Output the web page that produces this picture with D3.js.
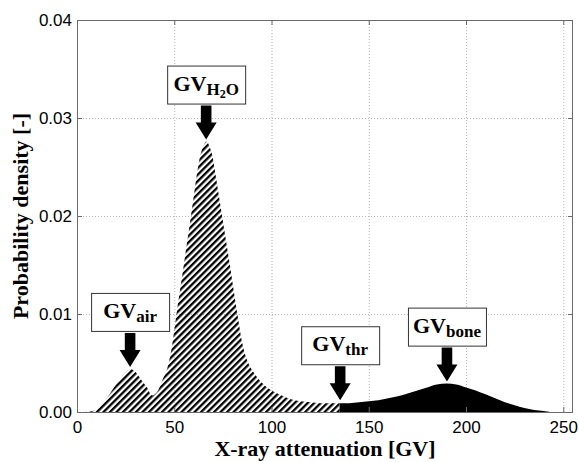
<!DOCTYPE html>
<html>
<head>
<meta charset="utf-8">
<script src="https://cdn.jsdelivr.net/npm/d3@7"></script>
<style>
  body { margin: 0; background: #fff; }
  svg { display: block; }
  .tick text { font-family: "Liberation Sans", Arial, sans-serif; font-size: 17px; fill: #000; }
  .grid line { stroke: #b4b4b4; stroke-dasharray: 1,2; }
  .lbl { font-family: "Liberation Serif", "Times New Roman", serif; font-weight: bold; fill: #000; }
</style>
</head>
<body>
<div id="chart"></div>
<script>
(function(){
  'use strict';

  // data
  var gv = [0, 4, 8, 11, 14, 17, 20, 23, 26, 27.6, 30, 33, 36, 38.5, 41, 44, 46, 48, 50, 52,
            54, 56, 58, 60, 62, 64, 66.5, 69, 71, 73, 75, 77, 79, 81, 83, 85, 88, 92, 96, 100,
            105, 110, 115, 120, 125, 130, 135, 140, 145, 150, 155, 160, 165, 170, 175, 180,
            185, 190, 195, 200, 205, 210, 215, 220, 225, 230, 235, 240, 243];
  var density = [0, 0, 0.0001, 0.0004, 0.0011, 0.0019, 0.0028, 0.0036, 0.0042, 0.0044, 0.0041,
            0.0033, 0.0025, 0.0017, 0.0020, 0.0033, 0.0042, 0.0058, 0.0083, 0.0112,
            0.0138, 0.0165, 0.0192, 0.0220, 0.0247, 0.0266, 0.0276, 0.0266, 0.0245, 0.0220,
            0.0195, 0.0170, 0.0145, 0.0118, 0.0093, 0.0070, 0.0050, 0.0037, 0.0028, 0.0022,
            0.0017, 0.0013, 0.0011, 0.0010, 0.0009, 0.0009, 0.0009, 0.0009, 0.0010, 0.0011,
            0.0012, 0.0014, 0.0016, 0.0019, 0.0022, 0.0025, 0.0028, 0.0029, 0.0028, 0.0025,
            0.0022, 0.0018, 0.0014, 0.0010, 0.0007, 0.0004, 0.0002, 0.0001, 0];
  var threshold = 135;

  var xTicks = [0, 50, 100, 150, 200, 250];
  var yTicks = [0, 0.01, 0.02, 0.03, 0.04];

  var annoNames = ['air', 'H2O', 'thr', 'bone'];
  var annoX = [27.3, 66.4, 135.3, 190.2];
  var annoTip = [0.0046, 0.0278, 0.0012, 0.0031];

  var W = 579, H = 462,
      m = {left: 77, top: 20, right: 6, bottom: 50},
      w = W - m.left - m.right,
      h = H - m.top - m.bottom;

  var svg = d3.select('#chart').append('svg')
    .attr('width', W)
    .attr('height', H);

  var x = d3.scaleLinear().domain([0, 255]).range([m.left, m.left + w]);
  var y = d3.scaleLinear().domain([0, 0.04]).range([m.top + h, m.top]);

  // hatch pattern
  svg.append('defs').append('pattern')
    .attr('id', 'hatch')
    .attr('patternUnits', 'userSpaceOnUse')
    .attr('width', 4.6)
    .attr('height', 4.6)
    .attr('patternTransform', 'rotate(45)')
    .append('rect')
      .attr('width', 2.3)
      .attr('height', 4.6)
      .attr('fill', '#000');

  // grid
  svg.append('g')
    .attr('class', 'grid')
    .attr('transform', 'translate(0,' + (m.top + h) + ')')
    .call(d3.axisBottom(x).tickValues(xTicks.slice(1)).tickSize(-h).tickFormat(''))
    .call(function(g){ g.select('.domain').remove(); });

  svg.append('g')
    .attr('class', 'grid')
    .attr('transform', 'translate(' + m.left + ',0)')
    .call(d3.axisLeft(y).tickValues(yTicks.slice(1, 4)).tickSize(-w).tickFormat(''))
    .call(function(g){ g.select('.domain').remove(); });

  var pts = gv.map(function(d, i){ return {x: d, y: density[i]}; });

  var area = d3.area()
    .x(function(d){ return x(d.x); })
    .y0(y(0))
    .y1(function(d){ return Math.min(y(d.y), y(0)); })
    .curve(d3.curveCatmullRom.alpha(0.5));

  svg.append('path')
    .datum(pts.filter(function(d){ return d.x <= threshold; }))
    .attr('d', area)
    .attr('fill', 'url(#hatch)');

  svg.append('path')
    .datum(pts.filter(function(d){ return d.x >= threshold; }))
    .attr('d', area)
    .attr('fill', '#000');

  // axes, matlab style ticks inside on all four sides
  function styleAxis(g) {
    g.select('.domain').remove();
    g.selectAll('.tick line').attr('stroke', '#6a6a6a');
  }

  svg.append('g')
    .attr('transform', 'translate(0,' + (m.top + h) + ')')
    .call(d3.axisBottom(x).tickValues(xTicks).tickSize(-5).tickPadding(9).tickFormat(d3.format('d')))
    .call(styleAxis);

  svg.append('g')
    .attr('transform', 'translate(0,' + m.top + ')')
    .call(d3.axisTop(x).tickValues(xTicks).tickSize(-5).tickFormat(''))
    .call(styleAxis);

  svg.append('g')
    .attr('transform', 'translate(' + m.left + ',0)')
    .call(d3.axisLeft(y).tickValues(yTicks).tickSize(-5).tickPadding(5).tickFormat(d3.format('.2f')))
    .call(styleAxis);

  svg.append('g')
    .attr('transform', 'translate(' + (m.left + w) + ',0)')
    .call(d3.axisRight(y).tickValues(yTicks).tickSize(-5).tickFormat(''))
    .call(styleAxis);

  svg.append('rect')
    .attr('x', m.left + 0.5)
    .attr('y', m.top + 0.5)
    .attr('width', w - 1)
    .attr('height', h)
    .attr('fill', 'none')
    .attr('stroke', '#6a6a6a');

  // axis titles
  svg.append('text')
    .attr('class', 'lbl')
    .attr('x', m.left + w / 2)
    .attr('y', 456)
    .attr('text-anchor', 'middle')
    .style('font-size', '22px')
    .text('X-ray attenuation [GV]');

  svg.append('text')
    .attr('class', 'lbl')
    .attr('transform', 'translate(28,' + (m.top + h / 2) + ') rotate(-90)')
    .attr('text-anchor', 'middle')
    .style('font-size', '22px')
    .text('Probability density [-]');

  // annotations
  var boxW = 78, boxH = 38, gap = 36;

  annoNames.forEach(function(name, i) {
    var cx = x(annoX[i]),
        tip = y(annoTip[i]),
        by = tip - gap - boxH,
        g = svg.append('g');

    g.append('rect')
      .attr('x', cx - boxW / 2 + 0.5)
      .attr('y', by + 0.5)
      .attr('width', boxW)
      .attr('height', boxH)
      .attr('fill', '#fff')
      .attr('stroke', '#333');

    var t = g.append('text')
      .attr('class', 'lbl')
      .attr('x', cx)
      .attr('y', by + boxH - 13)
      .attr('text-anchor', 'middle')
      .style('font-size', '22px');
    t.append('tspan').text('GV');
    var parts = name.match(/\d+|\D+/g);
    parts.forEach(function(p, j) {
      var isNum = /\d/.test(p);
      var s = t.append('tspan')
        .style('font-size', isNum ? '12px' : '17px')
        .text(p);
      if (j === 0) s.attr('dy', 4);
      else if (isNum) s.attr('dy', 3);
      else s.attr('dy', -3);
    });

    var s0 = by + boxH + 2,
        hb = tip - 17;
    g.append('path')
      .attr('d', 'M' + (cx - 5.3) + ',' + s0 + 'L' + (cx + 5.3) + ',' + s0 +
                 'L' + (cx + 5.3) + ',' + hb + 'L' + (cx + 10.5) + ',' + hb +
                 'L' + cx + ',' + tip + 'L' + (cx - 10.5) + ',' + hb +
                 'L' + (cx - 5.3) + ',' + hb + 'Z')
      .attr('fill', '#000');
  });

}());
</script>
</body>
</html>
